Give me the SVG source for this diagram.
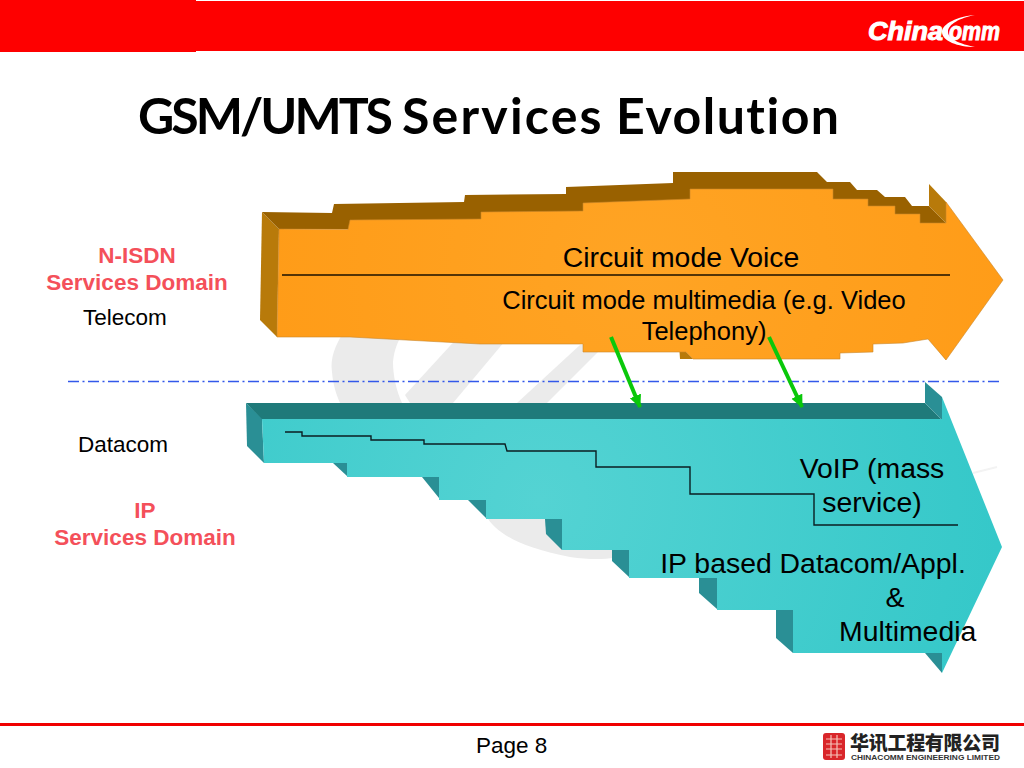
<svg xmlns="http://www.w3.org/2000/svg" width="1024" height="768" viewBox="0 0 1024 768">
<style>
text{font-family:"Liberation Sans",Arial,sans-serif;fill:#000}
.m{text-anchor:middle}
.red{fill:#f4505a;font-weight:bold;font-size:22.500px;text-anchor:middle}
.lab{font-size:22.500px}
.big{font-size:28.400px}
.wm{fill:#ebebeb}
.obrown{fill:#996100}
.oside{fill:#b87a0a}
.tdark{fill:#1f7a7a}
.tside{fill:#2a8f95}
.st{fill:none;stroke:#0b1e22;stroke-width:1.4}
.arrow{stroke:#0ac80a;stroke-width:4;fill:none;marker-end:url(#ah)}
</style>
<defs>
<radialGradient id="og" gradientUnits="userSpaceOnUse" cx="640" cy="270" r="370"><stop offset="0" stop-color="#ffa424"/><stop offset="1" stop-color="#ff9c18"/></radialGradient>
<radialGradient id="tg" gradientUnits="userSpaceOnUse" cx="540" cy="500" r="460"><stop offset="0" stop-color="#54d3d3"/><stop offset="1" stop-color="#35c8c9"/></radialGradient>
<marker id="ah" markerUnits="userSpaceOnUse" markerWidth="16" markerHeight="14" refX="12" refY="6" orient="auto"><path d="M0 0L13 6L0 12Z" fill="#0ac80a"/></marker>
</defs>
<rect width="1024" height="768" fill="#fff"/>
<g id="watermark">
<path class="wm" d="M345 330C335 345 330 358 332 372C333 384 336 394 340 403H402C396 390 393 375 393 362C394 350 398 340 405 330Z"/>
<path class="wm" d="M405 395L460 335H510L453 403H410Z"/>
<path class="wm" d="M517 403L580 345H605L547 403Z"/>
<path class="wm" d="M486 516C496 532 517 547 570 557C590 560 605 559 614 558V545H560V516Z"/>
<path d="M973 473L997 467" stroke="#f3f3f3" stroke-width="2" fill="none"/>
</g>
<g id="header">
<rect x="0" y="0" width="196" height="52" fill="#fe0000"/>
<rect x="196" y="1" width="828" height="50" fill="#fe0000"/>
<text x="868" y="40" font-size="25" font-weight="bold" font-style="italic" style="fill:#fff" stroke="#fff" stroke-width="1" textLength="75" lengthAdjust="spacingAndGlyphs">China</text>
<path d="M975 15C958 16 942 24 942 32C942 41 958 47 975 47C960 44 948 39 948 32C948 24 960 18 975 15Z" fill="#fff"/>
<text x="949" y="40" font-size="25" font-weight="bold" font-style="italic" style="fill:#fff" stroke="#fff" stroke-width="1" textLength="51" lengthAdjust="spacingAndGlyphs">omm</text>
</g>
<text id="title" y="134" font-size="50" font-weight="bold" style="font-family:Lato,sans-serif;font-variant-ligatures:none"><tspan x="138" letter-spacing="-3">GSM/UMTS</tspan> <tspan x="402" letter-spacing="2.200">Services</tspan> <tspan x="616" letter-spacing="1.500">Evolution</tspan></text>
<g id="domain-labels">
<text class="red" x="137" y="263">N-ISDN</text>
<text class="red" x="137" y="290">Services Domain</text>
<text class="lab" x="83" y="325">Telecom</text>
<text class="lab" x="78" y="452">Datacom</text>
<text class="red" x="145" y="518">IP</text>
<text class="red" x="145" y="545">Services Domain</text>
</g>
<g id="circuit-arrow">
<path class="oside" d="M262 212L279 229L277 337L260 320Z"/>
<path class="obrown" d="M262 212L332 213L334 204L464 202L465 195L566 194L566 187L673 183L673 172L817 172L827 182L850 182L857 190L877 190L885 197L905 197L912 206L929 206L946 223L700 230L279 229Z"/>
<path class="oside" d="M929 184L946 202V223L929 206Z"/>
<path class="oside" d="M929 339L946 337V360Z"/>
<path class="oside" d="M583 344L590 352H583Z"/>
<path class="oside" d="M679 344L686 352L693 359H680Z"/>
<path fill="url(#og)" stroke="#c9872a" stroke-width=".6" d="M279 229L348 229.500L350 220L481 219L481 212L583 211L583 203L690 199L690 189L833 189L833 199L868 199L868 206L895 206L895 214L920 214L920 223L946 223V202L1003 280L946 360L928 339L903 343L873 344V352L840 353V359L693 359L686 352L583 352V344L480 344L350 337L277 337Z"/>
<line x1="282" y1="275" x2="950" y2="275" stroke="#1a1000" stroke-width="1.300"/>
<text class="big m" x="681" y="267">Circuit mode Voice</text>
<text class="m" x="704" y="309" font-size="25.500">Circuit mode multimedia (e.g. Video</text>
<text class="m" x="704" y="340" font-size="25.500">Telephony)</text>
</g>
<g id="ip-arrow">
<path class="tdark" d="M246 403H925L942 420H262Z"/>
<path class="tside" d="M246 403L262 419L264 463L247 446Z"/>
<path class="tside" d="M925 382L942 397V420L925 403Z"/>
<path class="tside" d="M333 463H347V476Z"/>
<path class="tside" d="M422 477H439V498Z"/>
<path class="tside" d="M468 500H486V518Z"/>
<path class="tside" d="M545 519H562V550L546 534Z"/>
<path class="tside" d="M612 550H630L629 577L612 561Z"/>
<path class="tside" d="M699 578H717V609L699 593Z"/>
<path class="tside" d="M776 610H793V653L776 638Z"/>
<path class="tside" d="M925 653H942V673Z"/>
<path fill="url(#tg)" d="M262 419H942V397L1002 547L942 673V653H793V610H717V578H629V550H562V519H486V500H439V477H347V463H264Z"/>
<path class="st" d="M285 432H302V436H371V440H424V444H505L507 451H596V467H690V494H814V525H958"/>
<text class="big m" x="872" y="478">VoIP (mass</text>
<text class="big m" x="872" y="512">service)</text>
<text class="big m" x="813" y="573">IP based Datacom/Appl.</text>
<text class="big m" x="895" y="607">&amp;</text>
<text class="big" x="839" y="641">Multimedia</text>
</g>
<g id="connectors">
<line x1="68" y1="381.500" x2="1002" y2="381.500" stroke="#3358ea" stroke-width="1.600" stroke-dasharray="11 3.500 2 3.500"/>
<line class="arrow" x1="611" y1="337" x2="640" y2="407"/>
<line class="arrow" x1="769" y1="337" x2="802" y2="407"/>
</g>
<g id="footer">
<rect x="0" y="723" width="1024" height="3" fill="#f00000"/>
<text x="476" y="753" font-size="22.500">Page 8</text>
<rect x="823" y="733" width="22" height="27" rx="3" fill="#d9262a"/>
<path d="M826 739H842M826 744H842M826 749H842M826 755H842M831 735V758M837 735V758" stroke="#f6c2b8" stroke-width="1.200"/>
<text x="850" y="750" font-size="19" font-weight="900" style="font-family:'Noto Sans CJK SC',sans-serif;fill:#222" textLength="150">华讯工程有限公司</text>
<text x="851" y="760" font-size="7.500" font-weight="bold" style="fill:#333" textLength="149" lengthAdjust="spacingAndGlyphs">CHINACOMM ENGINEERING LIMITED</text>
</g>
</svg>
